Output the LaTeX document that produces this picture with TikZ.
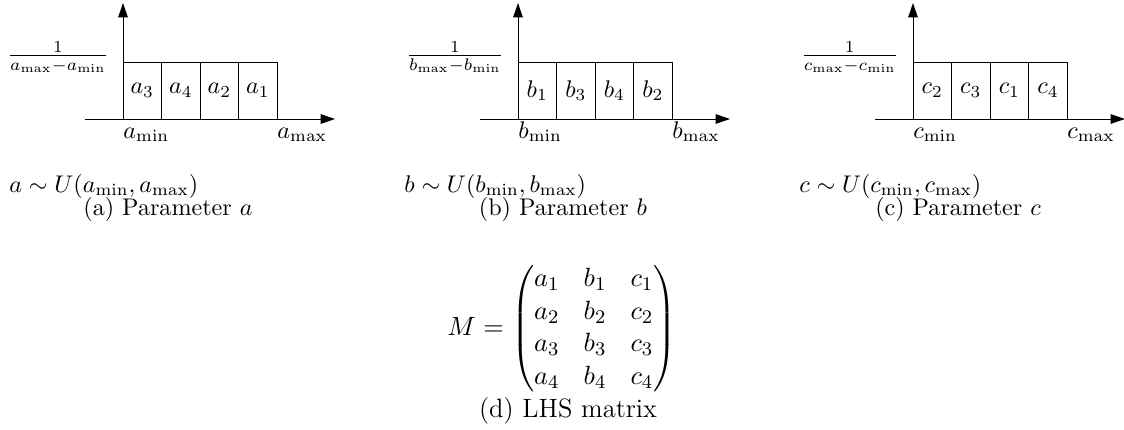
\documentclass[tikz,border=0pt]{standalone}
\usepackage{amsmath}
\usepackage{tikz}
\usetikzlibrary{arrows.meta, positioning}

\begin{document}
\begin{tikzpicture}[
  x=0.415pt, y=-0.415pt,
  node distance=0pt,
  axis/.style={-{Triangle[length=6pt, width=4pt]}},
  cell/.style={rectangle, draw, outer sep=0pt, minimum width=16pt, minimum height=23.65pt, inner sep=0pt},
  big/.style={font=\fontsize{11}{13.6}\selectfont}
]
\useasboundingbox (0,0) rectangle (1124,430);
% one plot per parameter: letter / shift / order of the samples
\foreach \p/\sx/\i/\j/\k/\l in {a/0/3/4/2/1, b/395/1/3/4/2, c/790/2/3/1/4} {
  \coordinate (\p o) at ({123+\sx},119);
  \coordinate (\p x0) at ({85+\sx},119);
  \coordinate (\p x1) at ({335+\sx},119);
  \coordinate (\p y1) at ({123+\sx},3);
  \node[cell, anchor=south west] (\p c1) at (\p o) {$\p_{\i}$};
  \node[cell, right=of \p c1] (\p c2) {$\p_{\j}$};
  \node[cell, right=of \p c2] (\p c3) {$\p_{\k}$};
  \node[cell, right=of \p c3] (\p c4) {$\p_{\l}$};
  \draw[axis] (\p x0) -- (\p x1);
  \draw[axis] (\p o) -- (\p y1);
  \node[anchor=base east] (\p h) at ({117+\sx},62) {$\frac{1}{\p_{\max}-\p_{\min}}$};
  \node[anchor=base west, inner sep=0pt] (\p lo) at ({123+\sx},138) {$\p_{\min}$};
  \node[anchor=base west, inner sep=0pt] (\p hi) at ({277+\sx},138) {$\p_{\max}$};
  \node[anchor=base west, inner sep=0pt] (\p dist) at ({9+\sx},192) {$\p\sim U(\p_{\min},\p_{\max})$};
  \node[anchor=base] (\p cap) at ({168+\sx},215) {(\p) Parameter $\p$};
}
\node[big] (mat) at (562,329) {$M=\begin{pmatrix}
  a_1 & b_1 & c_1\\
  a_2 & b_2 & c_2\\
  a_3 & b_3 & c_3\\
  a_4 & b_4 & c_4
\end{pmatrix}$};
\node[big, anchor=base] (dcap) at (568,417) {(d) LHS matrix};
\end{tikzpicture}
\end{document}
